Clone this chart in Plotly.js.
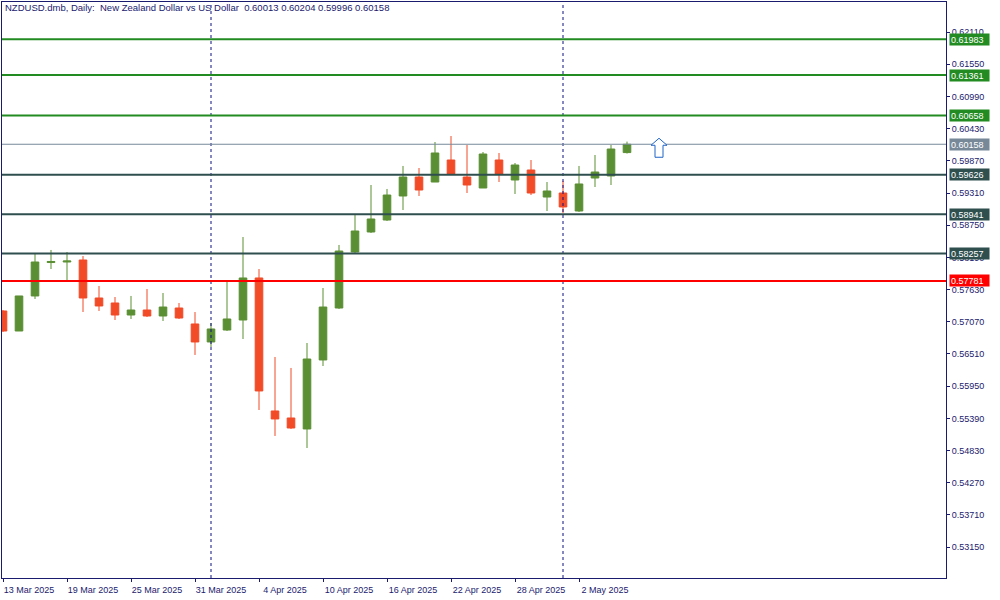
<!DOCTYPE html>
<html>
<head>
<meta charset="utf-8">
<script src="https://cdn.plot.ly/plotly-3.0.1.min.js"></script>
<style>
  html, body { margin: 0; padding: 0; background: #ffffff; }
  #chart { width: 1000px; height: 600px; }
</style>
</head>
<body>
<div id="chart"></div>
<script>
// ---------- data ----------
const symbolName = 'NZDUSD.dmb';
const period = 'Daily';
const description = 'New Zealand Dollar vs US Dollar';

const dates = ['13 Mar 2025','14 Mar 2025','17 Mar 2025','18 Mar 2025','19 Mar 2025','20 Mar 2025','21 Mar 2025','24 Mar 2025','25 Mar 2025','26 Mar 2025','27 Mar 2025','28 Mar 2025','31 Mar 2025','1 Apr 2025','2 Apr 2025','3 Apr 2025','4 Apr 2025','7 Apr 2025','8 Apr 2025','9 Apr 2025','10 Apr 2025','11 Apr 2025','14 Apr 2025','15 Apr 2025','16 Apr 2025','17 Apr 2025','18 Apr 2025','21 Apr 2025','22 Apr 2025','23 Apr 2025','24 Apr 2025','25 Apr 2025','28 Apr 2025','29 Apr 2025','30 Apr 2025','1 May 2025','2 May 2025','5 May 2025','6 May 2025','7 May 2025'];

const openP  = [0.57258,0.56910,0.57519,0.58101,0.58110,0.58145,0.57484,0.57397,0.57188,0.57275,0.57171,0.57310,0.57032,0.56719,0.56927,0.57101,0.57832,0.55519,0.55397,0.55206,0.56406,0.57310,0.58284,0.58632,0.58840,0.59258,0.59588,0.59501,0.59884,0.59588,0.59397,0.59884,0.59536,0.59710,0.59240,0.59310,0.58997,0.59571,0.59606,0.60013];
const highP  = [0.57275,0.57519,0.58267,0.58319,0.58284,0.58214,0.57693,0.57501,0.57519,0.57640,0.57571,0.57397,0.57240,0.57049,0.57797,0.58545,0.57988,0.56458,0.56267,0.56701,0.57658,0.58406,0.58927,0.59449,0.59380,0.59780,0.59745,0.60197,0.60301,0.60145,0.60023,0.60006,0.59832,0.59884,0.59501,0.59519,0.59780,0.59971,0.60145,0.60204];
const lowP   = [0.56893,0.56910,0.57467,0.57988,0.57762,0.57240,0.57258,0.57101,0.57119,0.57153,0.57084,0.57119,0.56493,0.56632,0.56910,0.56771,0.55536,0.55084,0.55206,0.54875,0.56301,0.57293,0.58267,0.58614,0.58823,0.59014,0.59258,0.59501,0.59623,0.59310,0.59397,0.59501,0.59293,0.59275,0.58997,0.58962,0.58980,0.59414,0.59449,0.59996];
const closeP = [0.56910,0.57519,0.58110,0.58119,0.58127,0.57484,0.57345,0.57188,0.57275,0.57171,0.57327,0.57136,0.56719,0.56945,0.57119,0.57832,0.55867,0.55380,0.55223,0.56423,0.57327,0.58301,0.58649,0.58858,0.59275,0.59588,0.59362,0.60006,0.59640,0.59449,0.59988,0.59640,0.59797,0.59310,0.59345,0.59067,0.59467,0.59675,0.60075,0.60158];

// x-axis date labels and price-axis tick labels
const xTickDates = ['13 Mar 2025','19 Mar 2025','25 Mar 2025','31 Mar 2025','4 Apr 2025','10 Apr 2025','16 Apr 2025','22 Apr 2025','28 Apr 2025','2 May 2025'];
const yTickValues = [0.53150,0.53710,0.54270,0.54830,0.55390,0.55950,0.56510,0.57070,0.57630,0.58190,0.58750,0.59310,0.59870,0.60430,0.60990,0.61550,0.62110];

// horizontal level lines
const resistanceLevels = [0.61983, 0.61361, 0.60658];
const supportLevels = [0.59626, 0.58941, 0.58257];
const keyLevel = [0.57781];
const bidPrice = closeP[closeP.length - 1];

// month period separators
const separatorDates = ['1 Apr 2025', '1 May 2025'];

// ---------- styling ----------
const FG = '#1a1a6e';
const UP = '#5b8f33';
const DOWN = '#f24b27';
const FONT = 'Liberation Sans, Arial, sans-serif';

const trace = {
  type: 'candlestick',
  x: dates,
  open: openP, high: highP, low: lowP, close: closeP,
  increasing: { line: { color: UP, width: 1 }, fillcolor: UP },
  decreasing: { line: { color: DOWN, width: 1 }, fillcolor: DOWN },
  whiskerwidth: 0,
  hoverinfo: 'none',
  showlegend: false
};

const shapes = [];
const annotations = [];

function levelLine(v, color, width) {
  shapes.push({ type: 'line', xref: 'paper', x0: 0, x1: 1, yref: 'y', y0: v, y1: v,
    line: { color: color, width: width }, layer: 'above' });
  annotations.push({ xref: 'paper', x: 1, xanchor: 'left', xshift: 3,
    yref: 'y', y: v, yanchor: 'middle', text: v.toFixed(5), showarrow: false,
    bgcolor: color, font: { family: FONT, size: 9, color: '#ffffff' },
    width: 37, height: 9, borderpad: 1, align: 'left' });
}

separatorDates.forEach(d => shapes.push({ type: 'line', xref: 'x', x0: d, x1: d,
  yref: 'paper', y0: 0, y1: 1, line: { color: '#101080', width: 1, dash: '3px,3px' }, layer: 'above' }));

resistanceLevels.forEach(v => levelLine(v, '#228b22', 2));
supportLevels.forEach(v => levelLine(v, '#2f4f4f', 2));
keyLevel.forEach(v => levelLine(v, '#ff0000', 2));
levelLine(bidPrice, '#778899', 1);

// up-arrow signal object next to the last bar
shapes.push({ type: 'path', xref: 'x', yref: 'y', xsizemode: 'pixel', ysizemode: 'pixel',
  xanchor: dates.length + 1, yanchor: bidPrice,
  path: 'M0,6 L8,-1 L4,-1 L4,-13 L-4,-13 L-4,-1 L-8,-1 Z',
  fillcolor: '#ffffff', line: { color: '#1f64c8', width: 1 }, layer: 'above' });

const fmt = v => v.toFixed(5);
const n = closeP.length - 1;
const S = '\u00a0';
const titleText = symbolName + ',' + S + period + ':' + S + S + description + S + S +
  fmt(openP[n]) + S + fmt(highP[n]) + S + fmt(lowP[n]) + S + fmt(closeP[n]);

const layout = {
  width: 1000, height: 600,
  margin: { l: 2, r: 54, t: 2, b: 22, pad: 0 },
  paper_bgcolor: '#ffffff', plot_bgcolor: '#ffffff',
  font: { family: FONT, size: 9, color: FG },
  title: { text: titleText, xref: 'container', x: 0.005, xanchor: 'left',
    yref: 'container', y: 0.993, yanchor: 'top', font: { family: FONT, size: 9.5, color: FG } },
  boxgap: 0.32,
  xaxis: {
    type: 'category', range: [-0.0625, 58.9375], fixedrange: true,
    rangeslider: { visible: false },
    tickmode: 'array', tickvals: xTickDates, ticktext: xTickDates,
    ticks: 'outside', ticklen: 3, tickcolor: FG, tickwidth: 1,
    ticklabelshift: 26, ticklabelstandoff: 0,
    showgrid: false, zeroline: false,
    showline: true, linecolor: FG, linewidth: 1, mirror: true,
    tickfont: { family: FONT, size: 9, color: FG }
  },
  yaxis: {
    side: 'right', range: [0.52614, 0.62632], fixedrange: true,
    tickmode: 'array', tickvals: yTickValues, ticktext: yTickValues.map(v => v.toFixed(5)),
    ticks: 'outside', ticklen: 3, tickcolor: FG, tickwidth: 1,
    showgrid: false, zeroline: false,
    showline: true, linecolor: FG, linewidth: 1, mirror: true,
    tickfont: { family: FONT, size: 9, color: FG }
  },
  shapes: shapes,
  annotations: annotations,
  hovermode: false
};

Plotly.newPlot('chart', [trace], layout, { staticPlot: true, displayModeBar: false });
</script>
</body>
</html>
